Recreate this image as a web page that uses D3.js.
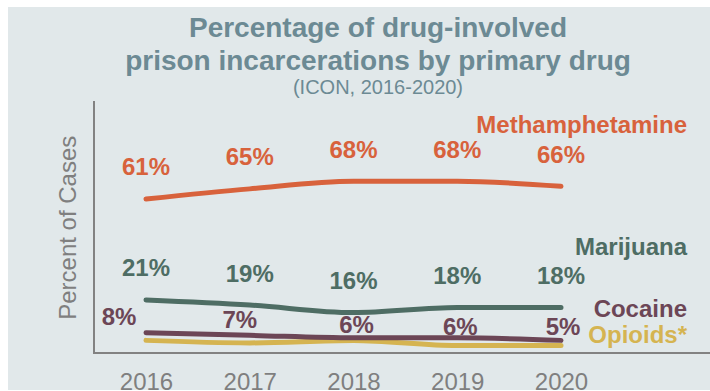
<!DOCTYPE html>
<html>
<head>
<meta charset="utf-8">
<script src="https://cdn.jsdelivr.net/npm/d3@7"></script>
<style>
  html, body { margin: 0; padding: 0; background: #ffffff; }
  svg { display: block; }
  text { font-family: "Liberation Sans", Arial, sans-serif; }
</style>
</head>
<body>
<svg id="chart" width="710" height="391"></svg>
<script>
// Share of drug-involved prison incarcerations, by primary drug (percent)
const years = ["2016", "2017", "2018", "2019", "2020"];
const methamphetamine = [61, 65, 68, 68, 66];
const marijuana = [21, 19, 16, 18, 18];
const cocaine = [8, 7, 6, 6, 5];
const opioids = [5, 4, 5, 3, 3];

const seriesNames = ["Methamphetamine", "Marijuana", "Cocaine", "Opioids*"];

const W = 710, H = 391;
const svg = d3.select("#chart");

// panel background with a thin white margin on the top and left
svg.append("rect").attr("width", W).attr("height", H).attr("fill", "#ffffff");
svg.append("rect").attr("x", 8).attr("y", 7).attr("width", W - 8).attr("height", H - 8)
  .attr("fill", "#e1e8ea");

const x = d3.scalePoint().domain(years).range([146, 561]);
const y = d3.scaleLinear().domain([0, 100]).range([353, 100.5]);

// title block
const titleColor = "#6c8a94";
const title = svg.append("g").attr("fill", titleColor).attr("text-anchor", "middle");
title.append("text").attr("x", 378).attr("y", 37)
  .attr("font-size", 28).attr("font-weight", "bold")
  .text("Percentage of drug-involved");
title.append("text").attr("x", 378).attr("y", 70)
  .attr("font-size", 28).attr("font-weight", "bold")
  .text("prison incarcerations by primary drug");
title.append("text").attr("x", 378).attr("y", 94)
  .attr("font-size", 20)
  .text("(ICON, 2016-2020)");

// axes: plain left and bottom rules, year labels underneath
const axisColor = "#828282";
const xAxis = d3.axisBottom(x).tickSize(0).tickPadding(20);
const gx = svg.append("g").attr("transform", `translate(0,${y(0)})`).call(xAxis);
gx.select(".domain").remove();
gx.append("line").attr("x1", 93).attr("x2", W).attr("y1", 0).attr("y2", 0)
  .attr("stroke", axisColor).attr("stroke-width", 2);
gx.selectAll(".tick text")
  .attr("font-family", "Liberation Sans, Arial, sans-serif")
  .attr("font-size", 24).attr("fill", "#7f7f7f")
  .attr("dy", "0.71em");

const yAxis = d3.axisLeft(y).tickValues([]).tickSize(0);
const gy = svg.append("g").attr("transform", "translate(93.5,0)").call(yAxis);
gy.select(".domain").attr("stroke", axisColor).attr("stroke-width", 2);

svg.append("text")
  .attr("transform", `translate(76,${(y(0) + y(100)) / 2 + 1}) rotate(-90)`)
  .attr("text-anchor", "middle").attr("font-size", 24).attr("fill", "#7f7f7f")
  .text("Percent of Cases");

// series lines
const colors = ["#d8623c", "#4e6d64", "#6c4656", "#d5b451"];
const values = [methamphetamine, marijuana, cocaine, opioids];

const line = d3.line()
  .x((d, i) => x(years[i]))
  .y(d => y(d))
  .curve(d3.curveMonotoneX);

// draw opioids first so the others sit on top
[3, 2, 1, 0].forEach(k => {
  svg.append("path")
    .datum(values[k])
    .attr("d", line)
    .attr("fill", "none")
    .attr("stroke", colors[k])
    .attr("stroke-width", 5)
    .attr("stroke-linecap", "round")
    .attr("stroke-linejoin", "round");
});

// value labels (opioids are left unlabeled)
const labelLift = [23.5, 23.5, null, null];
const cocaineShift = [[-27, -8], [-10, -7.5], [3, -5], [3, -3], [2, -5]];

[0, 1].forEach(k => {
  svg.append("g").selectAll("text")
    .data(values[k])
    .join("text")
    .attr("x", (d, i) => x(years[i]))
    .attr("y", d => y(d) - labelLift[k])
    .attr("text-anchor", "middle")
    .attr("font-size", 24).attr("font-weight", "bold")
    .attr("fill", colors[k])
    .text(d => d + "%");
});

svg.append("g").selectAll("text")
  .data(cocaine)
  .join("text")
  .attr("x", (d, i) => x(years[i]) + cocaineShift[i][0])
  .attr("y", (d, i) => y(d) + cocaineShift[i][1])
  .attr("text-anchor", "middle")
  .attr("font-size", 24).attr("font-weight", "bold")
  .attr("fill", colors[2])
  .text(d => d + "%");

// series names on the right
const nameBaselines = [133, 255, 317, 343];
svg.append("g").selectAll("text")
  .data(seriesNames)
  .join("text")
  .attr("x", 687)
  .attr("y", (d, i) => nameBaselines[i])
  .attr("text-anchor", "end")
  .attr("font-size", 24).attr("font-weight", "bold")
  .attr("fill", (d, i) => colors[i])
  .text(d => d);
</script>
</body>
</html>
